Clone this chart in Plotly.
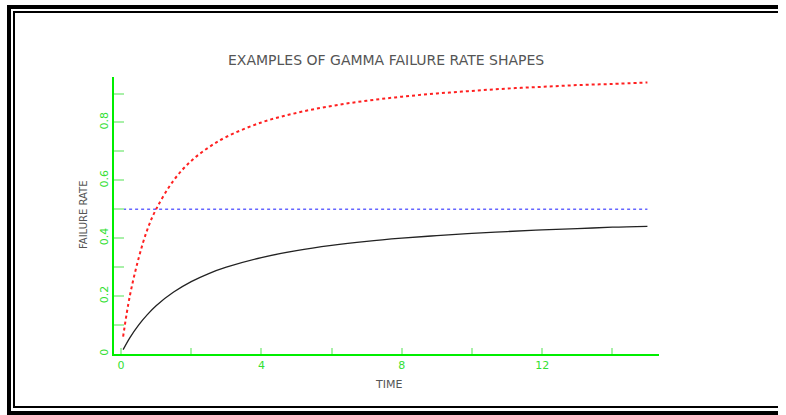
import plotly.graph_objects as go

# ---- data ----
time = [0.06, 0.25, 0.5, 0.75, 1, 1.5, 2, 2.5, 3, 4, 5, 6, 7, 8, 9, 10, 11, 12, 13, 14, 15]
red_rate = [0.06, 0.20, 0.33, 0.43, 0.50, 0.60, 0.667, 0.714, 0.75, 0.80, 0.833, 0.857,
            0.875, 0.889, 0.90, 0.909, 0.917, 0.923, 0.929, 0.933, 0.938]
black_rate = [0.015, 0.056, 0.10, 0.136, 0.167, 0.214, 0.25, 0.278, 0.30, 0.333, 0.357, 0.375,
              0.389, 0.40, 0.409, 0.417, 0.423, 0.429, 0.433, 0.438, 0.441]
blue_time = [0.06, 15]
blue_rate = [0.5, 0.5]

x_ticks = [0, 4, 8, 12]
x_ticktext = ["0", "4", "8", "12"]
x_minor = [2, 6, 10, 14]
y_ticks = [0, 0.2, 0.4, 0.6, 0.8]
y_ticktext = ["0", "0.2", "0.4", "0.6", "0.8"]
y_minor = [0.1, 0.3, 0.5, 0.7, 0.9]

title = "EXAMPLES OF GAMMA FAILURE RATE SHAPES"
x_title = "TIME"
y_title = "FAILURE RATE"

# ---- layout geometry ----
W, H = 786, 415
L, R, T, B = 114, 127, 77, 61
PW, PH = W - L - R, H - T - B


def px(x):
    return (x - L) / PW


def py(y):
    return (H - B - y) / PH


AXIS_GREEN = "#00ee00"
TICK_GREEN = "#a8f0a8"
LABEL_GREEN = "#33e033"
TEXT_GRAY = "#555555"

fig = go.Figure()
fig.add_trace(go.Scatter(x=blue_time, y=blue_rate, mode="lines",
                         line=dict(color="#6666ff", width=1.5, dash="dot"), showlegend=False))
fig.add_trace(go.Scatter(x=time, y=black_rate, mode="lines",
                         line=dict(color="#222222", width=1.3, shape="spline"), showlegend=False))
fig.add_trace(go.Scatter(x=time, y=red_rate, mode="lines",
                         line=dict(color="#ff2020", width=2, dash="dot", shape="spline"),
                         showlegend=False))

shapes = []


def rect(x0, y0, x1, y1):
    shapes.append(dict(type="rect", xref="paper", yref="paper",
                       x0=px(x0), x1=px(x1), y0=py(y0), y1=py(y1),
                       fillcolor="black", line=dict(width=0, color="rgba(0,0,0,0)"),
                       layer="above"))


RIGHT_END = 778
# outer thick frame (open on the right)
rect(7, 5, 11, 415)
rect(7, 5, RIGHT_END, 9)
rect(7, 411, RIGHT_END, 415)
# inner thin frame
rect(13, 11, 15, 408)
rect(13, 11, RIGHT_END, 13)
rect(13, 406, RIGHT_END, 408)

annotations = [
    dict(text=title, x=px(386), y=py(60), xref="paper", yref="paper", showarrow=False,
         font=dict(family="DejaVu Sans", size=14, color=TEXT_GRAY), xanchor="center", yanchor="middle"),
    dict(text=x_title, x=px(388), y=py(384), xref="paper", yref="paper", showarrow=False,
         font=dict(family="DejaVu Sans", size=11, color=TEXT_GRAY), xanchor="center", yanchor="middle"),
    dict(text=y_title, x=px(83), y=py(215), xref="paper", yref="paper", showarrow=False,
         textangle=-90,
         font=dict(family="DejaVu Sans", size=10, color=TEXT_GRAY), xanchor="center", yanchor="middle"),
]

fig.update_layout(
    width=W, height=H,
    margin=dict(l=L, r=R, t=T, b=B, pad=0),
    paper_bgcolor="white", plot_bgcolor="white",
    shapes=shapes, annotations=annotations,
    xaxis=dict(range=[-0.2, 15.33], showgrid=False, zeroline=False,
               showline=True, linecolor=AXIS_GREEN, linewidth=2,
               ticks="inside", ticklen=6, tickwidth=2, tickcolor=TICK_GREEN,
               tickvals=x_ticks, ticktext=x_ticktext,
               tickfont=dict(family="DejaVu Sans", size=11, color=LABEL_GREEN),
               minor=dict(tickvals=x_minor, ticks="inside", ticklen=6, tickwidth=2,
                          tickcolor=TICK_GREEN, showgrid=False)),
    yaxis=dict(range=[0, 0.957], showgrid=False, zeroline=False,
               showline=True, linecolor=AXIS_GREEN, linewidth=2,
               ticks="inside", ticklen=10, tickwidth=2, tickcolor=TICK_GREEN,
               tickvals=y_ticks, ticktext=y_ticktext, tickangle=-90,
               tickfont=dict(family="DejaVu Sans", size=11, color=LABEL_GREEN),
               minor=dict(tickvals=y_minor, ticks="inside", ticklen=10, tickwidth=2,
                          tickcolor=TICK_GREEN, showgrid=False)),
)

fig.write_html("out.html")
